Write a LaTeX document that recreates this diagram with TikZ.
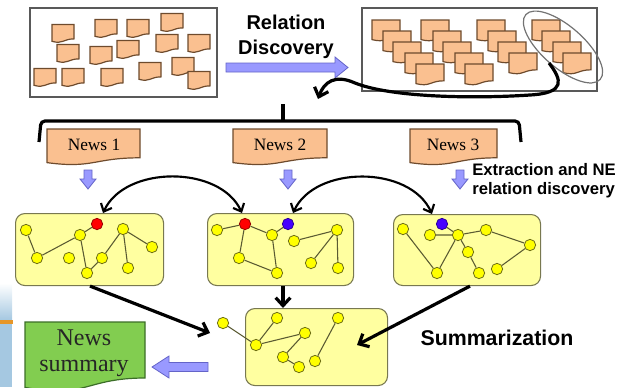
\documentclass[tikz,border=0pt]{standalone}
\usepackage{fontspec}
\setmainfont{Liberation Serif}
\setsansfont{Liberation Sans}
\usetikzlibrary{arrows.meta,shapes.geometric,calc}
\definecolor{docfill}{RGB}{250,192,144}
\definecolor{docline}{RGB}{110,75,45}
\definecolor{barrow}{RGB}{153,153,255}
\definecolor{barrowline}{RGB}{100,100,200}
\definecolor{gboxfill}{RGB}{255,255,160}
\definecolor{gboxline}{RGB}{120,120,80}
\definecolor{gnode}{RGB}{255,255,0}
\definecolor{gnodeline}{RGB}{110,110,20}
\definecolor{gedge}{RGB}{90,90,50}
\definecolor{rnode}{RGB}{255,0,0}
\definecolor{bnode}{RGB}{70,0,255}
\definecolor{sumfill}{RGB}{130,205,80}
\definecolor{sumline}{RGB}{60,110,40}
\definecolor{stripblue}{RGB}{165,200,225}
\definecolor{stripor}{RGB}{230,150,40}
\tikzset{
 docpic/.pic={\path[pic actions] (0,0) -- (1,0) -- (1,0.80) .. controls (0.5,0.80) and (0.5,1.107) .. (0,0.934) -- cycle;},
 docstyle/.style={fill=docfill,draw=docline,line width=0.9pt},
 gbox/.style={draw=gboxline,fill=gboxfill,rounded corners=7pt,line width=0.8pt,anchor=north west},
 gn/.style={circle,draw=gnodeline,fill=gnode,minimum size=8.5pt,inner sep=0pt,line width=0.6pt},
 rn/.style={gn,fill=rnode,draw=rnode!60!black},
 bn/.style={gn,fill=bnode,draw=bnode!60!black},
 ge/.style={draw=gedge,line width=0.8pt},
 bigarrow/.style={line width=2.4pt,-{Straight Barb[length=6pt,width=11pt]}},
 arcarrow/.style={line width=1.6pt,{Straight Barb[length=5pt,width=9pt]}-{Straight Barb[length=5pt,width=9pt]}},
 blockarrow/.style={fill=barrow,draw=barrowline,line width=0.6pt},
 framebox/.style={draw=black!65,line width=0.8pt},
 newslbl/.style={font=\fontsize{13}{15}\selectfont},
}
\begin{document}
\begin{tikzpicture}[x=0.75pt,y=-0.75pt]
\useasboundingbox (0,0) rectangle (625,387);
\clip (0,0) rectangle (625,387);
% slide background strip
\shade[top color=white,bottom color=stripblue] (0,283) rectangle (12,320);
\fill[stripor] (0,320) rectangle (13,324);
\fill[stripblue] (0,324) rectangle (12,387);
% top left box
\draw[framebox] (30,8) rectangle (217,97);
\foreach \x/\y in {63/33,106/28,138/28,172/22,68/53,101/55,128/49,167/43,199/43,45/77,73/77,112/77,150/71,183/66,199/80}
  \pic[docstyle,xscale=22,yscale=18] at (\x-11,\y-8.5) {docpic};
% relation discovery
\node[font=\sffamily\bfseries\fontsize{15}{18.5}\selectfont,align=center,inner sep=0pt] (rd) at (286,37) {Relation\\Discovery};
\draw[blockarrow] (226,63) -- (335,63) -- (335,57) -- (348,67.5) -- (335,78) -- (335,72) -- (226,72) -- cycle;
% top right box
\draw[framebox] (362,8) rectangle (597,91);
\foreach \x/\y in {372/20,383/31,393/42,405/53,416/64,
                   421/20,433/31,443/42,455/53,465/64,
                   477/20,488/31,498/42,509/53,
                   532/20,542/31,553/42,563/53}
  \pic[docstyle,xscale=28,yscale=21] at (\x,\y) {docpic};
\node[ellipse,draw=black!55,line width=0.9pt,minimum width=74pt,minimum height=31pt,rotate=-41] (ell) at (563,47) {};
\coordinate (cend) at (318,99);
\draw[bigarrow] (ell.south) .. controls (562,80) and (566,93) .. (530,95) .. controls (470,99) and (390,97) .. (355,83) .. controls (335,74) and (324,82) .. (cend);
% bracket
\draw[line width=2.4pt,rounded corners=3pt] (39,142) -- (41,121) -- (519,121) -- (521,142);
\draw[line width=2.4pt] (283,104) -- (283,121);
% news docs
\pic[docstyle,xscale=93,yscale=36] at (47,129) {docpic};
\pic[docstyle,xscale=94,yscale=36] at (233,129) {docpic};
\pic[docstyle,xscale=87,yscale=36] at (410,129) {docpic};
\node[newslbl] (n1) at (94,145) {News 1};
\node[newslbl] (n2) at (280,145) {News 2};
\node[newslbl] (n3) at (453,145) {News 3};
% down block arrows
\foreach \x in {88,288,460}
  \draw[blockarrow] (\x-4,170) -- (\x+4,170) -- (\x+4,179) -- (\x+8,179) -- (\x,189) -- (\x-8,179) -- (\x-4,179) -- cycle;
\node[font=\sffamily\bfseries\fontsize{12.5}{14.5}\selectfont,align=left,anchor=west,inner sep=0pt] (ex) at (472,181) {Extraction and NE\\relation discovery};
% graph boxes
\node[gbox,minimum width=111pt,minimum height=54pt] (B1) at (15,213) {};
\node[gbox,minimum width=109.5pt,minimum height=54pt] (B2) at (207,213) {};
\node[gbox,minimum width=110.25pt,minimum height=53.25pt] (B3) at (393,214) {};
\node[gbox,minimum width=106.5pt,minimum height=57.75pt] (B4) at (245,308) {};
% arcs
\draw[arcarrow] ($(B1.north west)+(88,0)$) .. controls (125,165) and (220,165) .. ($(B2.north west)+(35,0)$);
\draw[arcarrow] ($(B2.north west)+(86,0)$) .. controls (315,165) and (410,165) .. ($(B3.north west)+(39,0)$);
% graph 1
\node[gn] (a1) at (26,230) {};
\node[gn] (b1) at (37,258) {};
\node[gn] (c1) at (80,235) {};
\node[rn] (d1) at (97,224) {};
\node[gn] (e1) at (69,258) {};
\node[gn] (f1) at (87,273) {};
\node[gn] (g1) at (102,258) {};
\node[gn] (h1) at (123,229) {};
\node[gn] (i1) at (152,247) {};
\node[gn] (j1) at (128,268) {};
\draw[ge] (a1)--(b1) (b1)--(c1) (c1)--(d1) (c1)--(f1) (f1)--(g1) (g1)--(h1) (h1)--(i1) (h1)--(j1);
% graph 2
\node[gn] (a2) at (217,230) {};
\node[rn] (b2) at (245,224) {};
\node[gn] (c2) at (272,235) {};
\node[bn] (d2) at (288,224) {};
\node[gn] (e2) at (294,241) {};
\node[gn] (f2) at (239,258) {};
\node[gn] (g2) at (277,273) {};
\node[gn] (h2) at (337,230) {};
\node[gn] (i2) at (311,263) {};
\node[gn] (j2) at (338,268) {};
\draw[ge] (a2)--(b2) (b2)--(c2) (b2)--(f2) (f2)--(g2) (c2)--(g2) (c2)--(d2) (e2)--(h2) (h2)--(i2) (h2)--(j2);
% graph 3
\node[gn] (a3) at (403,229) {};
\node[bn] (b3) at (442,224) {};
\node[gn] (c3) at (430,235) {};
\node[gn] (d3) at (458,235) {};
\node[gn] (e3) at (486,230) {};
\node[gn] (f3) at (530,245) {};
\node[gn] (g3) at (468,252) {};
\node[gn] (h3) at (437,273) {};
\node[gn] (i3) at (479,273) {};
\node[gn] (j3) at (497,269) {};
\draw[ge] (a3)--(h3) (h3)--(d3) (c3)--(d3) (b3)--(d3) (d3)--(e3) (e3)--(f3) (f3)--(j3) (d3)--(g3) (g3)--(i3);
% graph 4
\node[gn] (a4) at (223,323) {};
\node[gn] (b4) at (277,318) {};
\node[gn] (c4) at (338,318) {};
\node[gn] (d4) at (256,345) {};
\node[gn] (e4) at (305,333) {};
\node[gn] (f4) at (283,357) {};
\node[gn] (g4) at (299,367) {};
\node[gn] (h4) at (315,361) {};
\draw[ge] (a4)--(d4) (d4)--(b4) (d4)--(e4) (e4)--(f4) (f4)--(g4) (c4)--(h4);
% big arrows
\coordinate (t1) at (210,333);
\coordinate (t3) at (357,345);
\draw[bigarrow] ($(B1.south west)+(75,0)$) -- (t1);
\draw[bigarrow] ($(B2.south west)+(76,0)$) -- ($(B4.north west)+(38,0)$);
\draw[bigarrow] ($(B3.south west)+(77,0)$) -- (t3);
\node[font=\sffamily\bfseries\fontsize{16}{19}\selectfont,inner sep=0pt] (summ) at (497,338) {Summarization};
% news summary
\pic[fill=sumfill,draw=sumline,line width=0.9pt,xscale=120,yscale=70] at (25,322) {docpic};
\node[font=\fontsize{18}{19.5}\selectfont,align=center,inner sep=0pt,text=black!85] (ns) at (84,353) {News\\summary};
\draw[blockarrow] (152,367) -- (169,356) -- (169,362.5) -- (208,362.5) -- (208,371.5) -- (169,371.5) -- (169,378) -- cycle;
\end{tikzpicture}
\end{document}
